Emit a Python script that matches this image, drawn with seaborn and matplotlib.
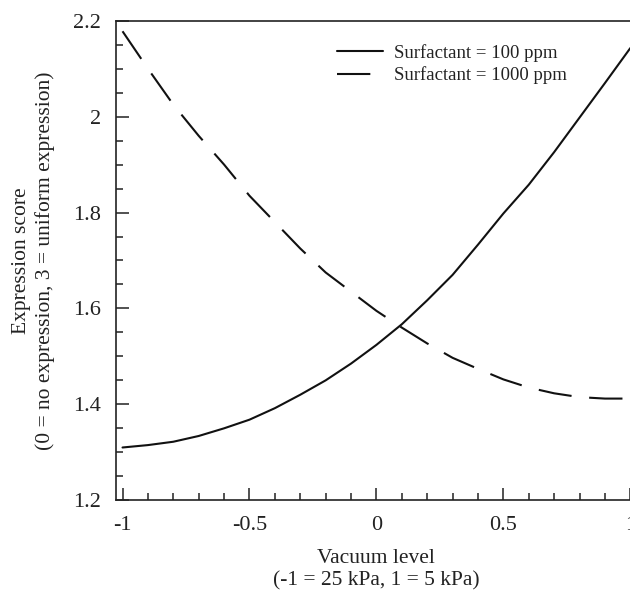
import matplotlib
matplotlib.use("Agg")
import matplotlib.pyplot as plt
import numpy as np
import pandas as pd
import seaborn as sns
from matplotlib.ticker import MultipleLocator, FormatStrFormatter

# values
vacuum = [-1.0, -0.9, -0.8, -0.7, -0.6, -0.5, -0.4, -0.3, -0.2, -0.1, 0.0,
          0.1, 0.2, 0.3, 0.4, 0.5, 0.6, 0.7, 0.8, 0.9, 1.0]
score_100 = [1.310, 1.315, 1.322, 1.334, 1.350, 1.368, 1.392, 1.420, 1.450, 1.485, 1.524,
             1.567, 1.617, 1.670, 1.733, 1.798, 1.858, 1.926, 1.998, 2.070, 2.143]
score_1000 = [2.178, 2.100, 2.025, 1.960, 1.900, 1.835, 1.780, 1.725, 1.675, 1.635, 1.595,
              1.560, 1.527, 1.497, 1.474, 1.452, 1.435, 1.423, 1.415, 1.412, 1.412]
series_names = ["Surfactant = 100 ppm", "Surfactant = 1000 ppm"]

df = pd.DataFrame({
    "vacuum": vacuum * 2,
    "score": score_100 + score_1000,
    "Surfactant": [series_names[0]] * len(vacuum) + [series_names[1]] * len(vacuum),
})

sns.set_style("ticks")
plt.rcParams["font.family"] = ["Liberation Serif", "DejaVu Serif"]
plt.rcParams["axes.unicode_minus"] = False

fig = plt.figure(figsize=(6.3, 5.92), dpi=100)
ax = fig.add_axes([0.184, 0.155, 0.827, 0.81])

sns.lineplot(
    data=df, x="vacuum", y="score", style="Surfactant",
    dashes={series_names[0]: "", series_names[1]: (16, 8.5)},
    color="#111111", linewidth=1.5, ax=ax,
)

ax.set_xlim(-1.026, 1.026)
ax.set_ylim(1.2, 2.2)
ax.xaxis.set_major_locator(MultipleLocator(0.5))
ax.xaxis.set_minor_locator(MultipleLocator(0.1))
ax.yaxis.set_major_locator(MultipleLocator(0.2))
ax.yaxis.set_minor_locator(MultipleLocator(0.05))
ax.xaxis.set_major_formatter(FormatStrFormatter("%g"))
ax.yaxis.set_major_formatter(FormatStrFormatter("%g"))
ax.tick_params(which="major", direction="in", length=9, width=1.1, labelsize=16,
               top=False, right=False, pad=11, colors="#222222")
ax.tick_params(which="minor", direction="in", length=5, width=1.1,
               top=False, right=False, colors="#222222")
for s in ax.spines.values():
    s.set_linewidth(1.2)
    s.set_color("#222222")

ax.set_xlabel("Vacuum level\n(-1 = 25 kPa, 1 = 5 kPa)", fontsize=15.5, labelpad=10.5,
              linespacing=1.25, color="#222222")
ax.set_ylabel("Expression score\n(0 = no expression, 3 = uniform expression)",
              fontsize=15.5, labelpad=13, linespacing=1.25, color="#222222")

ax.legend(loc="upper left", bbox_to_anchor=(0.391, 0.987), frameon=False,
          fontsize=13.5, handlelength=2.5, handletextpad=0.55, labelspacing=0.25,
          title=None, labelcolor="#222222")

fig.savefig("out.png", dpi=100)
